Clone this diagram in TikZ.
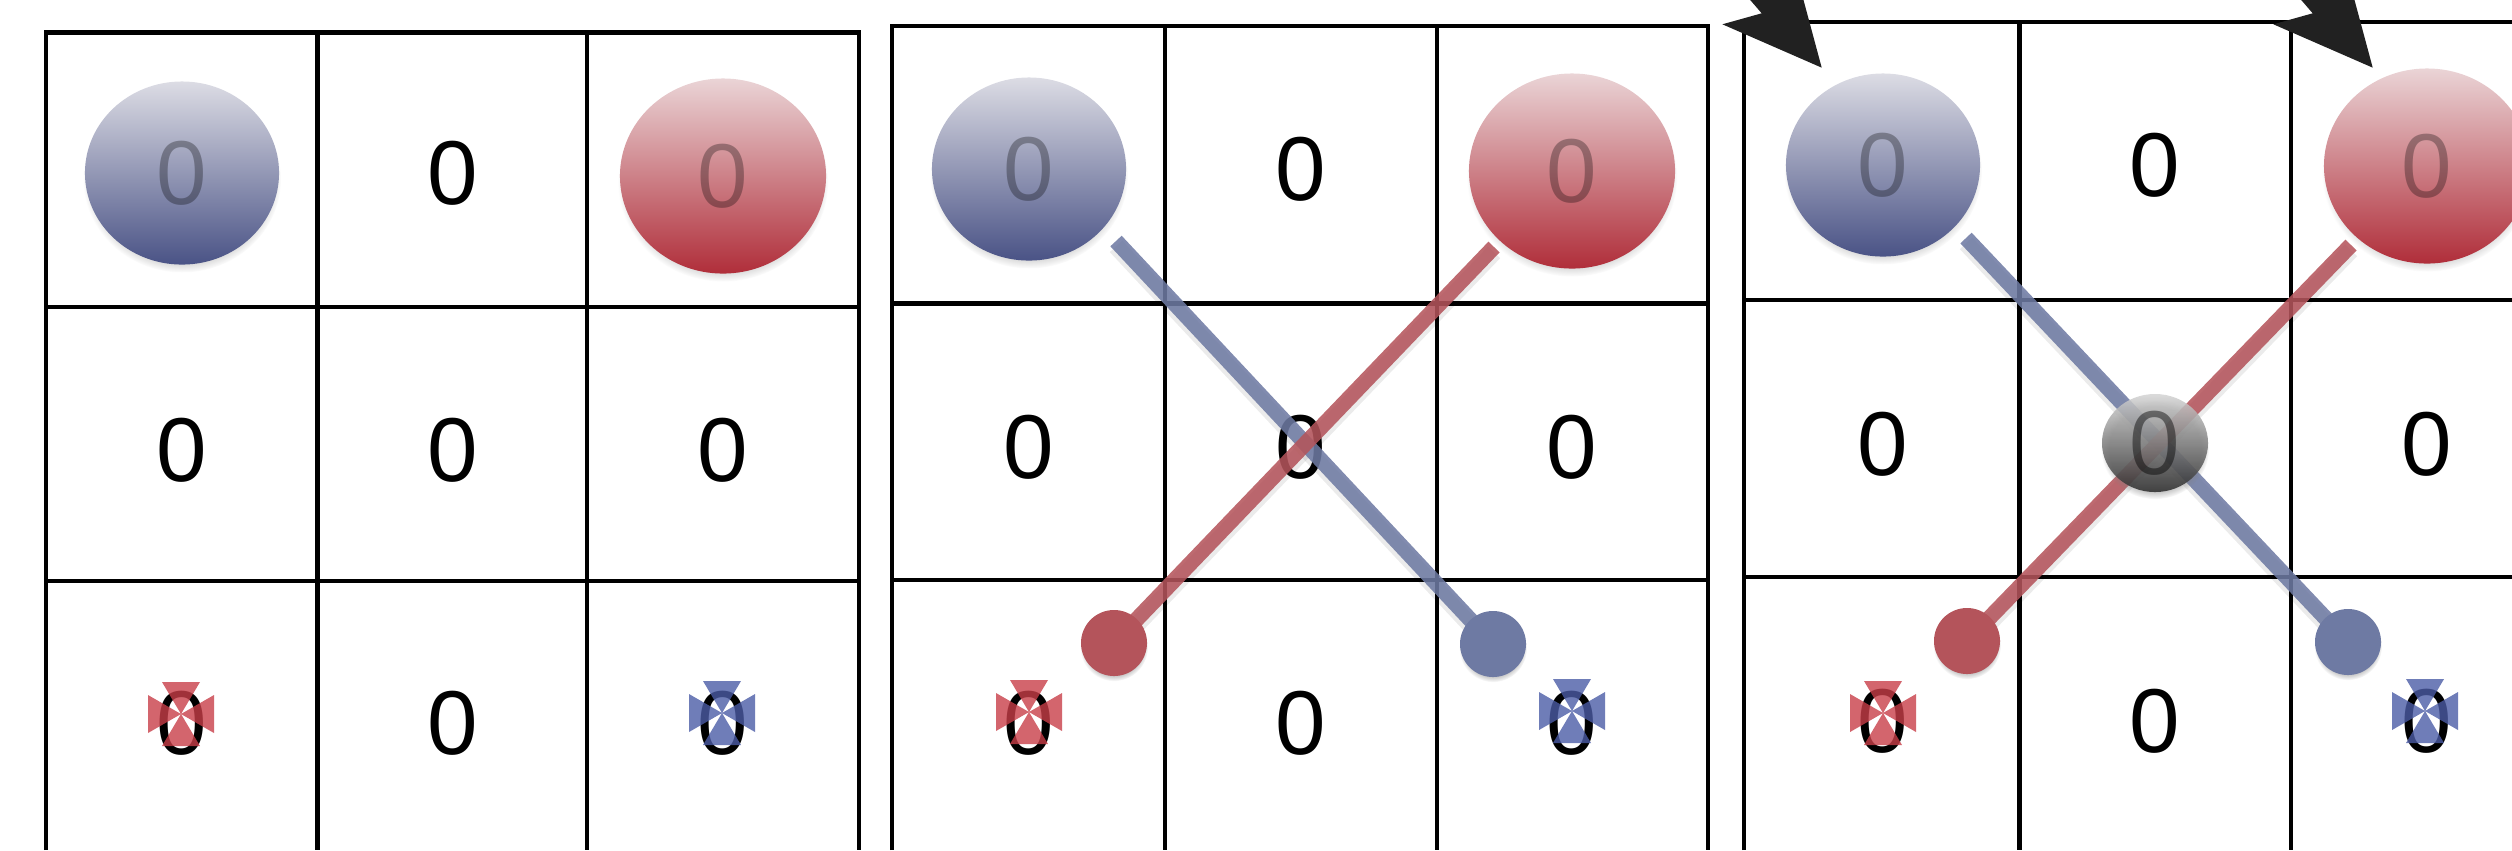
\documentclass[tikz,border=0pt]{standalone}
\usepackage{fontspec}
\setmainfont{Liberation Sans}
\usetikzlibrary{shapes.geometric,shadows,arrows.meta}

\definecolor{bluetop}{HTML}{DCDCE4}
\definecolor{bluebot}{HTML}{4A5386}
\definecolor{redtop}{HTML}{EAD4D6}
\definecolor{redbot}{HTML}{B02E3A}
\definecolor{graytop}{HTML}{D4D4D4}
\definecolor{graybot}{HTML}{2A2A2A}
\definecolor{bline}{HTML}{6E7AA3}
\definecolor{rline}{HTML}{B4545B}
\definecolor{bmark}{HTML}{4B5CA6}
\definecolor{rmark}{HTML}{C83E48}

\tikzset{
  zero/.style={font=\fontsize{25.8}{30}\selectfont, inner sep=0pt, text=black},
  ball/.style={ellipse, inner sep=0pt, font=\fontsize{25.8}{30}\selectfont,
    text=black, text opacity=0.3,
    circular drop shadow={shadow xshift=0pt, shadow yshift=-0.06cm, shadow scale=1.02, opacity=0.45}},
  blueball/.style={ball, top color=bluetop, bottom color=bluebot, minimum width=1.94cm, minimum height=1.83cm},
  redball/.style={ball, top color=redtop, bottom color=redbot, minimum width=2.06cm, minimum height=1.95cm},
  grayball/.style={ball, top color=graytop, bottom color=graybot, minimum width=1.06cm, minimum height=0.98cm,
    fill opacity=0.85, text opacity=0.45},
  gridline/.style={line width=0.042cm, draw=black},
  linkshadow/.style={line width=0.17cm, draw=black, draw opacity=0.08},
  bluelink/.style={line width=0.155cm, draw=bline, draw opacity=0.87},
  redlink/.style={line width=0.155cm, draw=rline, draw opacity=0.87},
  enddot/.style={circle, minimum size=0.66cm, inner sep=0pt,
    circular drop shadow={shadow xshift=0pt, shadow yshift=-0.04cm, shadow scale=1.03, opacity=0.4}},
  bluedot/.style={enddot, fill=bline},
  reddot/.style={enddot, fill=rline},
  bigarrow/.style={line width=0.2cm, draw=black!87,
    -{Stealth[length=0.96cm, width=0.9cm, inset=0.2cm]}},
  xmarker/.pic={
    \fill[#1, fill opacity=0.8]
      (-33,-19) -- (0,0) -- (-33,19) -- cycle
      (33,-19) -- (0,0) -- (33,19) -- cycle
      (-19,-32) -- (0,0) -- (19,-32) -- cycle
      (-19,32) -- (0,0) -- (19,32) -- cycle;
  }
}

\begin{document}
\begin{tikzpicture}[x=0.01cm, y=-0.01cm]
\useasboundingbox (0,0) rectangle (2512,850);
\clip (0,0) rectangle (2512,850);

% ---------- grid 1 ----------
\draw[gridline] (46,850) -- (46,32.5) -- (859,32.5) -- (859,850);
\draw[gridline] (317.5,32.5) -- (317.5,850) (587,32.5) -- (587,850);
\draw[gridline] (46,307) -- (859,307) (46,581) -- (859,581);

% ---------- grid 2 ----------
\draw[gridline] (892,850) -- (892,26) -- (1708,26) -- (1708,850);
\draw[gridline] (1165,26) -- (1165,850) (1437,26) -- (1437,850);
\draw[gridline] (892,303.5) -- (1708,303.5) (892,580) -- (1708,580);

% ---------- grid 3 ----------
\draw[gridline] (1744,850) -- (1744,21.7) -- (2512,21.7);
\draw[gridline] (2019.5,21.7) -- (2019.5,850) (2291,21.7) -- (2291,850);
\draw[gridline] (1744,300) -- (2512,300) (1744,577) -- (2512,577);

% ---------- digits, grid 1 ----------
\node[zero] (g1r1c2) at (453,173) {0};
\node[zero] (g1r2c1) at (182,450) {0};
\node[zero] (g1r2c2) at (453,450) {0};
\node[zero] (g1r2c3) at (723,450) {0};
\node[zero] (g1r3c1) at (182,723) {0};
\node[zero] (g1r3c2) at (453,723) {0};
\node[zero] (g1r3c3) at (723,723) {0};

% ---------- digits, grid 2 ----------
\node[zero] (g2r1c2) at (1301,169) {0};
\node[zero] (g2r2c1) at (1029,447) {0};
\node[zero] (g2r2c2) at (1301,447) {0};
\node[zero] (g2r2c3) at (1572,447) {0};
\node[zero] (g2r3c1) at (1029,723) {0};
\node[zero] (g2r3c2) at (1301,723) {0};
\node[zero] (g2r3c3) at (1572,723) {0};

% ---------- digits, grid 3 ----------
\node[zero] (g3r1c2) at (2155,165) {0};
\node[zero] (g3r2c1) at (1883,444) {0};
\node[zero] (g3r2c3) at (2427,444) {0};
\node[zero] (g3r3c1) at (1883,721) {0};
\node[zero] (g3r3c2) at (2155,721) {0};
\node[zero] (g3r3c3) at (2427,721) {0};

% ---------- balls ----------
\node[blueball] (g1blue) at (182,173) {0};
\node[redball]  (g1red)  at (723,176) {0};
\node[blueball] (g2blue) at (1029,169) {0};
\node[redball]  (g2red)  at (1572,171) {0};
\node[blueball] (g3blue) at (1883,165) {0};
\node[redball]  (g3red)  at (2427,166) {0};

% ---------- links, grid 2 ----------
\coordinate (g2bs) at (1116,241);
\coordinate (g2rs) at (1494,247);
\coordinate (g2bd) at (1493,644);
\coordinate (g2rd) at (1114,643);
\draw[linkshadow] ([yshift=-1.5pt]g2bs) -- ([yshift=-1.5pt]g2bd);
\draw[linkshadow] ([yshift=-1.5pt]g2rs) -- ([yshift=-1.5pt]g2rd);
\draw[bluelink] (g2bs) -- (g2bd);
\node[bluedot] (g2bdot) at (g2bd) {};
\draw[redlink] (g2rs) -- (g2rd);
\node[reddot] (g2rdot) at (g2rd) {};

% ---------- links, grid 3 ----------
\coordinate (g3bs) at (1966,238);
\coordinate (g3rs) at (2351,245);
\coordinate (g3bd) at (2348,642);
\coordinate (g3rd) at (1967,641);
\draw[linkshadow] ([yshift=-1.5pt]g3bs) -- ([yshift=-1.5pt]g3bd);
\draw[linkshadow] ([yshift=-1.5pt]g3rs) -- ([yshift=-1.5pt]g3rd);
\draw[bluelink] (g3bs) -- (g3bd);
\node[bluedot] (g3bdot) at (g3bd) {};
\draw[redlink] (g3rs) -- (g3rd);
\node[reddot] (g3rdot) at (g3rd) {};

\node[grayball] (g3gray) at (2155,443) {0};

% ---------- markers ----------
\pic at (181,714) {xmarker=rmark};
\pic at (722,713) {xmarker=bmark};
\pic at (1029,712) {xmarker=rmark};
\pic at (1572,711) {xmarker=bmark};
\pic at (1883,713) {xmarker=rmark};
\pic at (2425,711) {xmarker=bmark};

% ---------- arrows ----------
\coordinate (a1s) at (1561,-235);
\coordinate (a1t) at (1822,68);
\coordinate (a2s) at (2112,-235);
\coordinate (a2t) at (2373,68);
\draw[bigarrow] (a1s) -- (a1t);
\draw[bigarrow] (a2s) -- (a2t);
\end{tikzpicture}
\end{document}
